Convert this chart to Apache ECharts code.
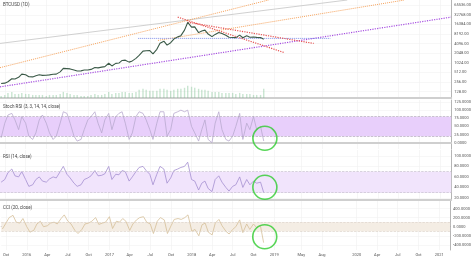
<!DOCTYPE html>
<html><head><meta charset="utf-8">
<script src="https://cdn.jsdelivr.net/npm/echarts@6/dist/echarts.min.js"></script>
<style>html,body{margin:0;padding:0;background:#fff}#c{width:474px;height:257px}</style>
</head><body><div id="c"></div><script>
const dates = ['2015-09-15','2015-10-01','2015-10-15','2015-11-01','2015-11-15','2015-12-01','2015-12-15',
'2016-01-01','2016-01-15','2016-02-01','2016-02-15','2016-03-01','2016-03-15','2016-04-01','2016-04-15','2016-05-01','2016-05-15','2016-06-01','2016-06-15',
'2016-07-01','2016-07-15','2016-08-01','2016-08-15','2016-09-01','2016-09-15','2016-10-01','2016-10-15','2016-11-01','2016-11-15','2016-12-01','2016-12-15',
'2017-01-01','2017-01-15','2017-02-01','2017-02-15','2017-03-01','2017-03-15','2017-04-01','2017-04-15','2017-05-01','2017-05-15','2017-06-01','2017-06-15',
'2017-07-01','2017-07-15','2017-08-01','2017-08-15','2017-09-01','2017-09-15','2017-10-01','2017-10-15','2017-11-01','2017-11-15','2017-12-01','2017-12-15',
'2018-01-01','2018-01-15','2018-02-01','2018-02-15','2018-03-01','2018-03-15','2018-04-01','2018-04-15','2018-05-01','2018-05-15','2018-06-01','2018-06-15',
'2018-07-01','2018-07-15','2018-08-01','2018-08-15','2018-09-01','2018-09-15','2018-10-01','2018-10-15','2018-11-01','2018-11-15'];
const price = [230,237,262,325,320,362,455,432,375,372,405,432,415,417,430,450,455,535,690,675,662,610,570,575,610,615,640,730,712,752,780,
998,820,990,1010,1222,1245,1080,1180,1420,1750,2400,2450,2500,1950,2720,4200,4900,3700,4400,5700,6700,7300,10900,19000,
13500,13800,9100,10200,10900,8200,6800,8000,9200,8500,7500,6500,6400,6350,7600,6300,7200,6500,6600,6450,6350,5600];
const volume = [2,3,5,6,4,4,5,4,4,3,3,3,3,2,3,3,3,4,6,5,4,3,3,2,2,2,3,4,3,3,4,6,4,5,5,6,6,5,5,6,8,9,8,7,7,7,9,9,8,7,8,9,9,10,12,11,10,9,8,8,7,6,6,6,5,5,5,5,4,5,4,4,4,3,3,3,9];
const stochRsi = [15,60,85,90,70,40,80,60,20,10,30,70,85,60,30,10,20,60,95,90,60,20,5,10,40,70,80,95,60,30,70,90,40,80,90,95,60,10,30,80,95,90,70,40,10,60,95,95,20,40,90,95,100,95,100,50,30,5,40,70,10,0,60,95,40,10,5,20,50,90,10,60,40,80,40,50,5];
const rsi = [50,55,68,75,62,60,70,55,42,45,55,60,52,50,56,60,58,70,80,65,58,48,42,45,55,58,62,72,62,63,66,80,55,65,64,72,70,52,60,70,78,80,72,65,45,65,80,75,48,58,72,75,78,80,88,55,52,35,48,52,38,32,55,62,50,40,33,42,45,60,40,55,45,52,48,50,30];
const cci = [-50,80,200,250,100,80,180,0,-120,-80,60,120,0,20,80,100,60,180,260,120,60,-80,-150,-60,60,80,120,200,50,80,100,220,-40,120,100,180,120,-80,60,150,200,220,100,60,-150,120,200,150,-150,20,160,180,160,200,260,-100,-60,-200,40,80,-120,-180,80,160,20,-100,-160,-60,0,150,-130,60,-60,60,-20,20,-350];
const xTickDates = ['2015-10-01','2016-01-01','2016-04-01','2016-07-01','2016-10-01','2017-01-01','2017-04-01','2017-07-01','2017-10-01',
'2018-01-01','2018-04-01','2018-07-01','2018-10-01','2019-01-01','2019-05-01','2019-08-01','2020-01-01','2020-04-01','2020-07-01','2020-10-01','2021-01-01'];
const priceTicks = [128,256,512,1024,2048,4096,8192,16384,32768,65536];
const stochTicks = [0,25,50,75,100,125];
const rsiTicks = [20,40,60,80,100];
const cciTicks = [-400,-200,0,200,400];
const trendGray = [['2015-09-10',4170],['2019-11-18',96000]];
const trendOrange1 = [['2015-09-10',723],['2018-12-06',96000]];
const trendOrange2 = [['2017-08-06',5184],['2020-07-28',96000]];
const trendPurple = [['2015-09-10',181],['2021-02-17',27800]];
const trendBlue = [['2017-05-11',6000],['2019-09-05',6000]];
const trendRed1 = [['2017-11-01',27800],['2019-02-13',2160]];
const trendRed2 = [['2017-12-14',19290],['2019-06-23',4170]];
const circleStoch = [['2018-11-20',13.5]];
const circleRsi = [['2018-11-20',40.2]];
const circleCci = [['2018-11-20',-220]];

const pd = s => { const [y,m,d] = s.split('-').map(Number); return new Date(y, m-1, d).getTime(); };
const xMin = pd('2015-09-10'), xMax = pd('2021-02-18');
const tickTs = xTickDates.map(pd);
const MON = ['Jan','Feb','Mar','Apr','May','Jun','Jul','Aug','Sep','Oct','Nov','Dec'];
const fmtX = v => { const d = new Date(v); return d.getMonth() === 0 ? String(d.getFullYear()) : MON[d.getMonth()]; };
const zip = (a, b) => a.map((v, i) => [pd(dates[i]), b[i]]);
const seg = a => a.map(p => [pd(p[0]), p[1]]);

const grids = [
  {left:0, right:17, top:0, height:98},
  {left:0, right:17, top:100, height:49},
  {left:0, right:17, top:150, height:50},
  {left:0, right:17, top:201, height:49}
];
const sepColor = '#cfcfcf';
const xAxes = grids.map((g, i) => ({
  type:'value', gridIndex:i, min:xMin, max:xMax,
  axisLine:{show:true, lineStyle:{color: i===3 ? '#999' : sepColor, width: i===3 ? 1 : 2}},
  axisTick:{show:false, customValues: tickTs},
  axisLabel:{show: i===3, customValues: tickTs, formatter: fmtX, fontSize:4, color:'#555', margin:3, fontFamily:'Roboto'},
  splitLine:{show:true, lineStyle:{color:'#f0f0f0', width:0.6}}
}));
const yBase = (i, min, max, ticks, fmt) => ({
  type:'value', gridIndex:i, position:'right', min, max,
  axisLine:{show:true, lineStyle:{color:'#b5b5b5'}},
  axisTick:{show:false, customValues: ticks},
  axisLabel:{customValues: ticks, formatter: fmt, fontSize:4, color:'#555', margin:3, fontFamily:'Roboto'},
  splitLine:{show:true, lineStyle:{color:'#f2f2f2', width:0.6}}
});
const yAxes = [
  Object.assign(yBase(0, 81, 96000, priceTicks, v => v.toFixed(2)), {type:'log', logBase:2}),
  {type:'value', gridIndex:0, show:false, min:0, max:Math.max(...volume)*8},
  yBase(1, -19.35, 131.1, stochTicks, v => v.toFixed(4)),
  yBase(2, 16.0, 111.2, rsiTicks, v => v.toFixed(4)),
  yBase(3, -512, 565, cciTicks, v => v.toFixed(4))
];
const tl = (data, color, type, width) => ({
  type:'line', xAxisIndex:0, yAxisIndex:0, data: seg(data), showSymbol:false, silent:true,
  lineStyle:{color, type, width: width || 1}, z:3
});
const circ = (data, xi, yi) => ({
  type:'scatter', xAxisIndex:xi, yAxisIndex:yi, data: seg(data), symbol:'circle', symbolSize:24,
  itemStyle:{color:'rgba(0,0,0,0)', borderColor:'#2ecc2e', borderWidth:1.6}, z:10, silent:true
});
const lastPrice = price[price.length-1];
const titleStyle = {fontSize:4.5, color:'#444', fontWeight:'normal', fontFamily:'Roboto'};

const option = {
  animation:false,
  backgroundColor:'#ffffff',
  title:[
    {text:'BTCUSD (1D)', left:3, top:2, textStyle:titleStyle, padding:0},
    {text:'Stoch RSI (3, 3, 14, 14, close)', left:3, top:104, textStyle:titleStyle, padding:0},
    {text:'RSI (14, close)', left:3, top:154, textStyle:titleStyle, padding:0},
    {text:'CCI (20, close)', left:3, top:205, textStyle:titleStyle, padding:0}
  ],
  grid: grids,
  xAxis: xAxes,
  yAxis: yAxes,
  series: [
    {type:'bar', xAxisIndex:0, yAxisIndex:1, data: zip(dates, volume), barWidth:1.4,
     itemStyle:{color:'rgba(120,190,140,0.4)'}, silent:true},
    tl(trendGray, '#c4c4c4', 'solid', 0.8),
    tl(trendOrange1, '#f5a25c', 'dotted', 1),
    tl(trendOrange2, '#f5a25c', 'dotted', 1),
    tl(trendPurple, '#a64fe0', 'dotted', 1.2),
    tl(trendBlue, '#7f8fe8', 'dotted', 1),
    tl(trendRed1, '#e5504f', 'dotted', 1.2),
    tl(trendRed2, '#e5504f', 'dotted', 1.2),
    {type:'line', xAxisIndex:0, yAxisIndex:0, data: zip(dates, price), showSymbol:false,
     lineStyle:{color:'#3b5a48', width:1.1}, z:4,
     markLine:{symbol:'none', silent:true, lineStyle:{opacity:0},
       label:{position:'end', formatter: lastPrice.toFixed(2), fontSize:4, color:'#fff', backgroundColor:'#3f9e57',
              borderColor:'#2a7a40', borderWidth:0.6, padding:[1,1], distance:1, fontFamily:'Roboto'},
       data:[{yAxis:lastPrice}]}},
    {type:'line', xAxisIndex:1, yAxisIndex:2, data: zip(dates, stochRsi), showSymbol:false,
     lineStyle:{color:'#b9a9cf', width:0.8},
     markArea:{silent:true, itemStyle:{color:'#e8cffb'}, data:[[{yAxis:20},{yAxis:80}]]},
     markLine:{symbol:'none', silent:true, label:{show:false}, lineStyle:{color:'#a8a0b0', type:'dashed', width:0.6}, data:[{yAxis:20},{yAxis:80}]}},
    {type:'line', xAxisIndex:2, yAxisIndex:3, data: zip(dates, rsi), showSymbol:false,
     lineStyle:{color:'#a58fd0', width:0.8},
     markArea:{silent:true, itemStyle:{color:'#f1e4fc'}, data:[[{yAxis:30},{yAxis:70}]]},
     markLine:{symbol:'none', silent:true, label:{show:false}, lineStyle:{color:'#c0b8c8', type:'dashed', width:0.6}, data:[{yAxis:30},{yAxis:70}]}},
    {type:'line', xAxisIndex:3, yAxisIndex:4, data: zip(dates, cci), showSymbol:false,
     lineStyle:{color:'#d6bf98', width:0.8},
     markArea:{silent:true, itemStyle:{color:'#f4ede4'}, data:[[{yAxis:-100},{yAxis:100}]]},
     markLine:{symbol:'none', silent:true, label:{show:false}, lineStyle:{color:'#d8cfc4', type:'dashed', width:0.6}, data:[{yAxis:-100},{yAxis:100}]}},
    circ(circleStoch, 1, 2),
    circ(circleRsi, 2, 3),
    circ(circleCci, 3, 4)
  ]
};
const chart = echarts.init(document.getElementById('c'), null, {renderer:'canvas'});
chart.setOption(option);
</script></body></html>
